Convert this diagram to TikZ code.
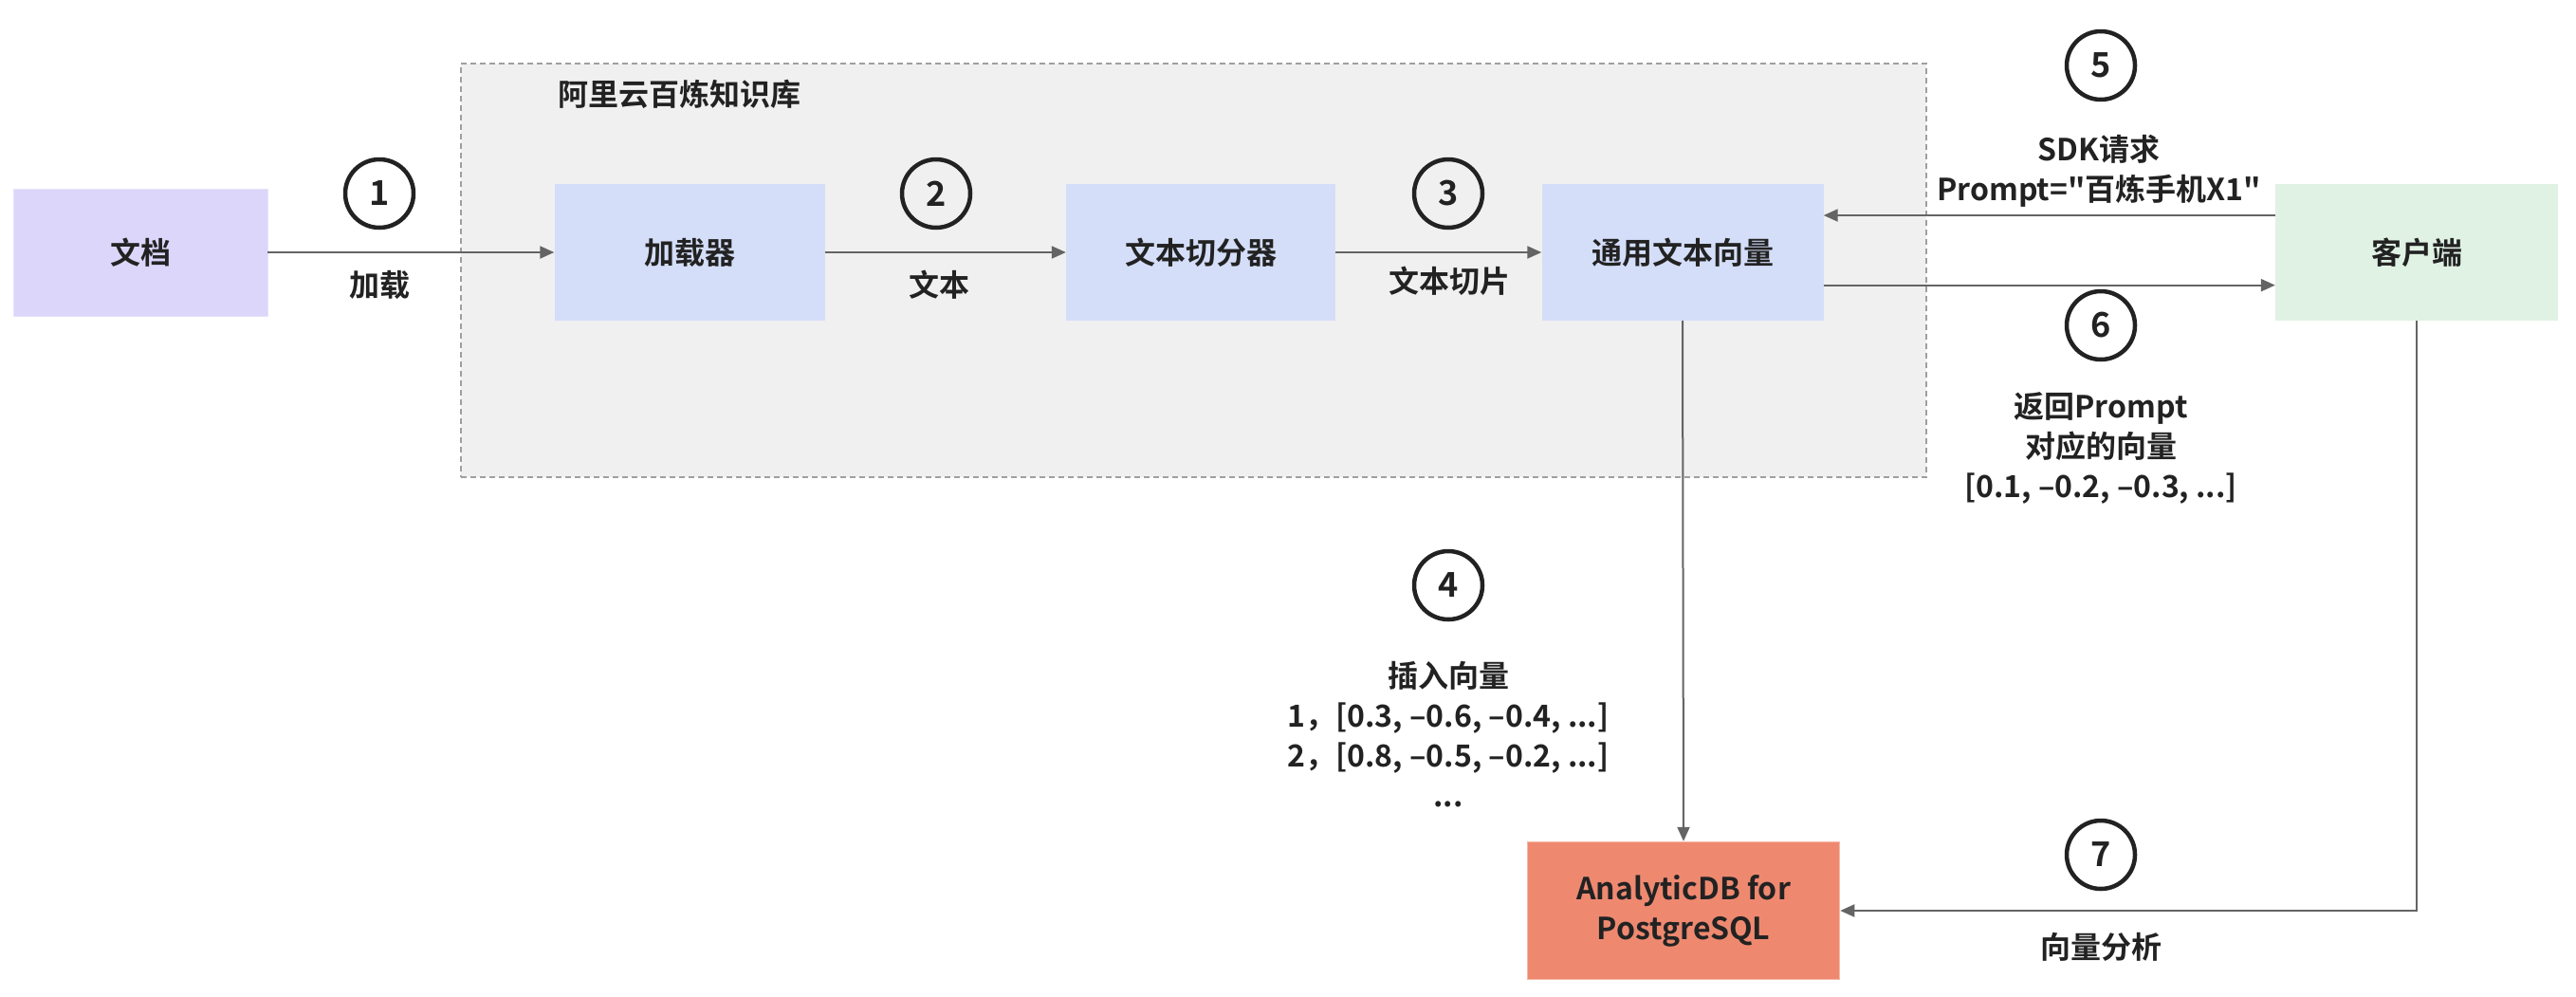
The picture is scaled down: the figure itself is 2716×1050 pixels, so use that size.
\documentclass[tikz,border=0pt]{standalone}
\usepackage{fontspec}
\setmainfont{Noto Sans CJK SC}[BoldFont={Noto Sans CJK SC Bold}]
\newfontfamily\plainfont{Noto Sans CJK SC}[BoldFont={Noto Sans CJK SC Bold}]
\usetikzlibrary{arrows.meta,calc}
\definecolor{docc}{RGB}{220,214,250}
\definecolor{bluec}{RGB}{212,222,249}
\definecolor{greenc}{RGB}{224,242,228}
\definecolor{adbc}{RGB}{238,137,112}
\definecolor{grpc}{RGB}{240,240,240}
\definecolor{linec}{RGB}{100,100,100}
\definecolor{txtc}{RGB}{34,34,34}
\tikzset{
  box/.style={minimum width=#1, minimum height=144pt, inner sep=0pt, text=txtc},
  num/.style={circle, draw=txtc, line width=4.5pt, minimum size=72pt, inner sep=0pt, text=txtc, font=\plainfont\fontsize{36}{40}\selectfont\bfseries},
  lbl/.style={align=center, text=txtc},
  arr/.style={draw=linec, line width=2pt, -{Triangle[length=15pt,width=13pt]}},
}
\begin{document}
\begin{tikzpicture}[x=1pt,y=-1pt, font=\plainfont\fontsize{32}{42}\selectfont\bfseries]
\useasboundingbox (0,0) rectangle (2716,1050);
\fill[white] (0,0) rectangle (2716,1050);
% group
\node[draw=gray!75, dash pattern=on 6pt off 4pt, line width=2pt, fill=grpc, minimum width=1545pt, minimum height=436pt, anchor=north west, inner sep=0pt] (grp) at (485,66) {};
\node[anchor=west, text=txtc] (title) at (585,99) {阿里云百炼知识库};
% boxes
\node[box=268pt, minimum height=134pt, fill=docc, draw=docc!70!white] (doc) at (148,266) {文档};
\node[box=285pt, fill=bluec] (loader) at (727,266) {加载器};
\node[box=284pt, fill=bluec] (split) at (1266,266) {文本切分器};
\node[box=297pt, fill=bluec] (emb) at (1774,266) {通用文本向量};
\node[box=298pt, fill=greenc] (client) at (2548,266) {客户端};
\node[box=329pt, minimum height=145pt, fill=adbc, draw=adbc!60!white, line width=1.5pt, align=center] (adb) at (1775,960) {AnalyticDB for\\PostgreSQL};
% numbers
\node[num] (n1) at (400,204) {1};
\node[num] (n2) at (987,204) {2};
\node[num] (n3) at (1527,204) {3};
\node[num] (n4) at (1527,617) {4};
\node[num] (n5) at (2215,69) {5};
\node[num] (n6) at (2215,343) {6};
\node[num] (n7) at (2215,901) {7};
% labels
\node[lbl] (l1) at (400,300) {加载};
\node[lbl] (l2) at (990,300) {文本};
\node[lbl] (l3) at (1528,296) {文本切片};
\node[lbl] (l5) at (2213,180) {SDK请求\\Prompt="百炼手机X1"};
\node[lbl] (l6) at (2215,472) {返回Prompt\\对应的向量\\{[0.1, –0.2, –0.3, ...]}};
\node[lbl] (l4) at (1527,774) {插入向量\\1，[0.3, –0.6, –0.4, ...]\\2，[0.8, –0.5, –0.2, ...]\\...};
\node[lbl] (l7) at (2215,998) {向量分析};
% connectors
\draw[arr] (doc.east) -- (loader.west);
\draw[arr] (loader.east) -- (split.west);
\draw[arr] (split.east) -- (emb.west);
\draw[arr] ($(client.north west)!0.23!(client.south west)$) -- ($(emb.north east)!0.23!(emb.south east)$);
\draw[arr] ($(emb.north east)!0.74!(emb.south east)$) -- ($(client.north west)!0.74!(client.south west)$);
\draw[arr] (emb.south) -- (adb.north);
\draw[arr] (client.south) |- (adb.east);
\end{tikzpicture}
\end{document}
